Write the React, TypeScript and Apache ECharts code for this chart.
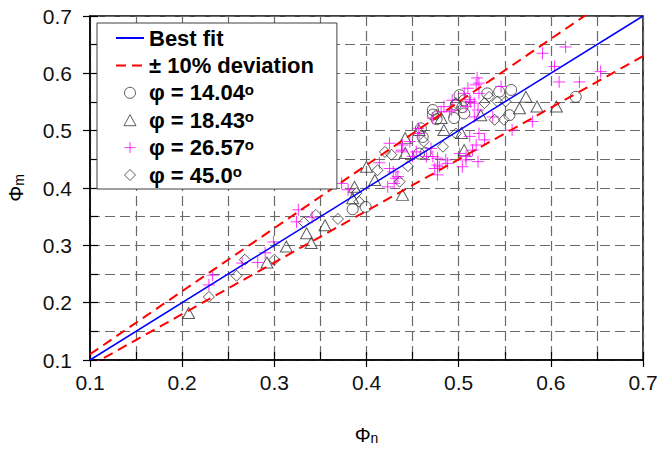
import React, { useEffect, useRef } from "react";
import * as echarts from "echarts";

const FONT = "'Liberation Sans', Arial, Helvetica, sans-serif";

// Axis ticks
const axisMin = 0.1;
const axisMax = 0.7;
const majorStep = 0.1;
const minorStep = 0.05;

// Lines
const bestFit = [[0.1, 0.1], [0.7, 0.7]];
const upperDev = [[0.1, 0.11], [0.7, 0.77]];
const lowerDev = [[0.1, 0.09], [0.7, 0.63]];

// Series names
const nameFit = "Best fit";
const nameDev = "± 10% deviation";
const name1404 = "φ = 14.04°";
const name1843 = "φ = 18.43°";
const name2657 = "φ = 26.57°";
const name450 = "φ = 45.0°";

// φ = 14.04° (circles)
const phi1404 = [
  [0.385, 0.363], [0.399, 0.367], [0.457, 0.46], [0.464, 0.461], [0.459, 0.504],
  [0.461, 0.489], [0.472, 0.536], [0.472, 0.528], [0.476, 0.52], [0.495, 0.522],
  [0.497, 0.545], [0.501, 0.562], [0.506, 0.553], [0.506, 0.53], [0.531, 0.565],
  [0.544, 0.568], [0.557, 0.571], [0.555, 0.527], [0.627, 0.559], [0.504, 0.541],
];

// φ = 18.43° (triangles)
const phi1843 = [
  [0.207, 0.182], [0.292, 0.27], [0.313, 0.298], [0.335, 0.321], [0.34, 0.304],
  [0.355, 0.335], [0.385, 0.382], [0.387, 0.402], [0.4, 0.437], [0.409, 0.414],
  [0.439, 0.388], [0.442, 0.461], [0.442, 0.487], [0.457, 0.501], [0.484, 0.501],
  [0.481, 0.522], [0.503, 0.496], [0.506, 0.466], [0.524, 0.527], [0.566, 0.539],
  [0.585, 0.542], [0.606, 0.542], [0.573, 0.559],
];

// φ = 26.57° (plus signs)
const phi2657 = [
  [0.229, 0.231], [0.233, 0.248], [0.265, 0.269], [0.282, 0.27], [0.29, 0.287],
  [0.299, 0.306], [0.324, 0.341], [0.326, 0.362], [0.341, 0.349], [0.373, 0.408],
  [0.38, 0.397], [0.414, 0.444], [0.425, 0.434], [0.432, 0.417], [0.423, 0.402],
  [0.425, 0.478], [0.438, 0.466], [0.45, 0.455], [0.477, 0.452], [0.486, 0.449],
  [0.474, 0.434], [0.477, 0.423], [0.501, 0.46], [0.429, 0.428], [0.434, 0.42],
  [0.479, 0.437], [0.472, 0.455], [0.504, 0.437], [0.43, 0.408], [0.493, 0.553],
  [0.472, 0.522], [0.52, 0.592], [0.522, 0.583], [0.546, 0.577], [0.508, 0.542],
  [0.512, 0.554], [0.517, 0.548], [0.537, 0.524], [0.558, 0.501], [0.58, 0.516],
  [0.512, 0.49], [0.522, 0.495], [0.528, 0.484], [0.519, 0.475], [0.515, 0.466],
  [0.508, 0.455], [0.591, 0.635], [0.616, 0.646], [0.604, 0.612], [0.609, 0.585],
  [0.631, 0.585], [0.654, 0.603], [0.519, 0.58], [0.51, 0.574], [0.506, 0.565],
  [0.522, 0.565], [0.521, 0.536], [0.517, 0.524], [0.513, 0.551], [0.49, 0.533],
  [0.481, 0.533], [0.484, 0.542], [0.456, 0.504], [0.457, 0.495], [0.447, 0.481],
  [0.439, 0.475], [0.454, 0.463], [0.465, 0.455], [0.47, 0.469], [0.508, 0.449],
  [0.521, 0.446], [0.477, 0.44], [0.488, 0.443], [0.438, 0.463], [0.492, 0.536],
];

// φ = 45.0° (diamonds)
const phi450 = [
  [0.229, 0.21], [0.259, 0.247], [0.268, 0.275], [0.3, 0.275], [0.332, 0.34],
  [0.345, 0.353], [0.369, 0.346], [0.389, 0.391], [0.392, 0.376], [0.412, 0.431],
  [0.42, 0.463], [0.427, 0.458], [0.436, 0.411], [0.445, 0.438], [0.462, 0.481],
  [0.476, 0.528], [0.483, 0.472], [0.497, 0.495], [0.497, 0.548], [0.528, 0.548],
  [0.533, 0.559], [0.542, 0.551], [0.551, 0.551], [0.539, 0.519], [0.549, 0.519],
];

const MARKER = "#333333";
const PLUS = "#ff00ff";
const HOLLOW = "rgba(255,255,255,0)";
const plusPath = "path://M0,5L10,5M5,0L5,10";
const triPath = "path://M6,0L12,11L0,11Z";
const diaPath = "path://M5.5,0L11,5.5L5.5,11L0,5.5Z";

const gridDash = { color: "#6a6a6a", width: 1.2, type: [10, 5] as number[] };

export default function App() {
  const ref = useRef<HTMLDivElement>(null);

  useEffect(() => {
    document.body.style.margin = "0";
    const chart = echarts.init(ref.current!, undefined, { renderer: "svg" });

    const markerStyle = { color: HOLLOW, borderColor: MARKER, borderWidth: 1 };
    const plusStyle = { color: HOLLOW, borderColor: PLUS, borderWidth: 1 };
    const noSymbol = { opacity: 0 };

    const nameRich = {
      sub: { fontFamily: FONT, fontSize: 14, color: "#000", verticalAlign: "bottom", lineHeight: 14 },
    };

    const option: any = {
      animation: false,
      backgroundColor: "#ffffff",
      grid: {
        left: 90,
        right: 16,
        top: 16,
        bottom: 92,
        containLabel: false,
        outerBoundsMode: "none",
        show: true,
        borderColor: "#000",
        borderWidth: 1.5,
        backgroundColor: "transparent",
      },
      xAxis: [
        {
          type: "value",
          min: axisMin,
          max: axisMax,
          interval: majorStep,
          position: "bottom",
          name: "Φ{sub|n}",
          nameLocation: "middle",
          nameGap: 65,
          nameTextStyle: { fontFamily: FONT, fontSize: 20, color: "#000", rich: nameRich },
          axisLine: { show: true, onZero: false, lineStyle: { color: "#000", width: 1.5 } },
          axisTick: { show: true, inside: false, length: 7, lineStyle: { color: "#000", width: 1.2 } },
          axisLabel: {
            fontFamily: FONT,
            fontSize: 21,
            color: "#111",
            margin: 12,
            formatter: (v: number) => v.toFixed(1),
          },
          splitLine: { show: false },
        },
        {
          type: "value",
          min: axisMin,
          max: axisMax,
          interval: minorStep,
          position: "bottom",
          axisLine: { show: false, onZero: false },
          axisTick: { show: true, inside: true, length: 8, lineStyle: { color: "#000", width: 1.2 } },
          axisLabel: { show: false },
          splitLine: { show: true, lineStyle: gridDash },
        },
      ],
      yAxis: [
        {
          type: "value",
          min: axisMin,
          max: axisMax,
          interval: majorStep,
          position: "left",
          name: "Φ{sub|m}",
          nameLocation: "middle",
          nameGap: 64,
          nameRotate: 90,
          nameTextStyle: { fontFamily: FONT, fontSize: 20, color: "#000", rich: nameRich },
          axisLine: { show: true, onZero: false, lineStyle: { color: "#000", width: 1.5 } },
          axisTick: { show: true, inside: false, length: 7, lineStyle: { color: "#000", width: 1.2 } },
          axisLabel: {
            fontFamily: FONT,
            fontSize: 21,
            color: "#111",
            margin: 18,
            formatter: (v: number) => v.toFixed(1),
          },
          splitLine: { show: false },
        },
        {
          type: "value",
          min: axisMin,
          max: axisMax,
          interval: minorStep,
          position: "left",
          axisLine: { show: false, onZero: false },
          axisTick: { show: true, inside: true, length: 8, lineStyle: { color: "#000", width: 1.2 } },
          axisLabel: { show: false },
          splitLine: { show: true, lineStyle: gridDash },
        },
      ],
      legend: {
        orient: "vertical",
        left: 97,
        top: 23,
        padding: [4, 23, 3, 18],
        itemGap: 5.4,
        itemWidth: 28,
        itemHeight: 11,
        symbolKeepAspect: true,
        backgroundColor: "#fff",
        borderColor: "#404040",
        borderWidth: 1,
        borderRadius: 0,
        selectedMode: false,
        textStyle: {
          fontFamily: FONT,
          fontSize: 22,
          fontWeight: "bold",
          color: "#000",
          lineHeight: 22,
          rich: {
            sup: { fontFamily: FONT, fontSize: 15, fontWeight: "bold", color: "#000", verticalAlign: "top", lineHeight: 15 },
          },
        },
        formatter: (n: string) => n.replace("°", "{sup|o}"),
        data: [
          { name: nameFit, itemStyle: noSymbol },
          { name: nameDev, itemStyle: noSymbol },
          { name: name1404, icon: "circle", itemStyle: markerStyle },
          { name: name1843, icon: triPath, itemStyle: markerStyle },
          { name: name2657, icon: plusPath, itemStyle: plusStyle },
          { name: name450, icon: diaPath, itemStyle: markerStyle },
        ],
      },
      series: [
        {
          name: name1404,
          type: "scatter",
          xAxisIndex: 0,
          yAxisIndex: 0,
          symbol: "circle",
          symbolSize: 11,
          itemStyle: markerStyle,
          data: phi1404,
          z: 2,
        },
        {
          name: name1843,
          type: "scatter",
          xAxisIndex: 0,
          yAxisIndex: 0,
          symbol: "triangle",
          symbolSize: [12, 11],
          itemStyle: markerStyle,
          data: phi1843,
          z: 2,
        },
        {
          name: name2657,
          type: "scatter",
          xAxisIndex: 0,
          yAxisIndex: 0,
          symbol: plusPath,
          symbolSize: 12,
          itemStyle: plusStyle,
          data: phi2657,
          z: 2,
        },
        {
          name: name450,
          type: "scatter",
          xAxisIndex: 0,
          yAxisIndex: 0,
          symbol: "diamond",
          symbolSize: 11,
          itemStyle: markerStyle,
          data: phi450,
          z: 2,
        },
        {
          name: nameFit,
          type: "line",
          xAxisIndex: 0,
          yAxisIndex: 0,
          data: bestFit,
          symbol: "none",
          clip: true,
          lineStyle: { color: "#0000ff", width: 1.5, type: "solid" },
          itemStyle: { color: "#0000ff" },
          z: 3,
        },
        {
          name: nameDev,
          type: "line",
          xAxisIndex: 0,
          yAxisIndex: 0,
          data: upperDev,
          symbol: "none",
          clip: true,
          lineStyle: { color: "#ff0000", width: 2, type: [10, 6] },
          itemStyle: { color: "#ff0000" },
          z: 3,
        },
        {
          name: nameDev,
          type: "line",
          xAxisIndex: 0,
          yAxisIndex: 0,
          data: lowerDev,
          symbol: "none",
          clip: true,
          lineStyle: { color: "#ff0000", width: 2, type: [10, 6] },
          itemStyle: { color: "#ff0000" },
          z: 3,
        },
      ],
    };

    chart.setOption(option);
    return () => chart.dispose();
  }, []);

  return <div ref={ref} style={{ width: 659, height: 452 }} />;
}
